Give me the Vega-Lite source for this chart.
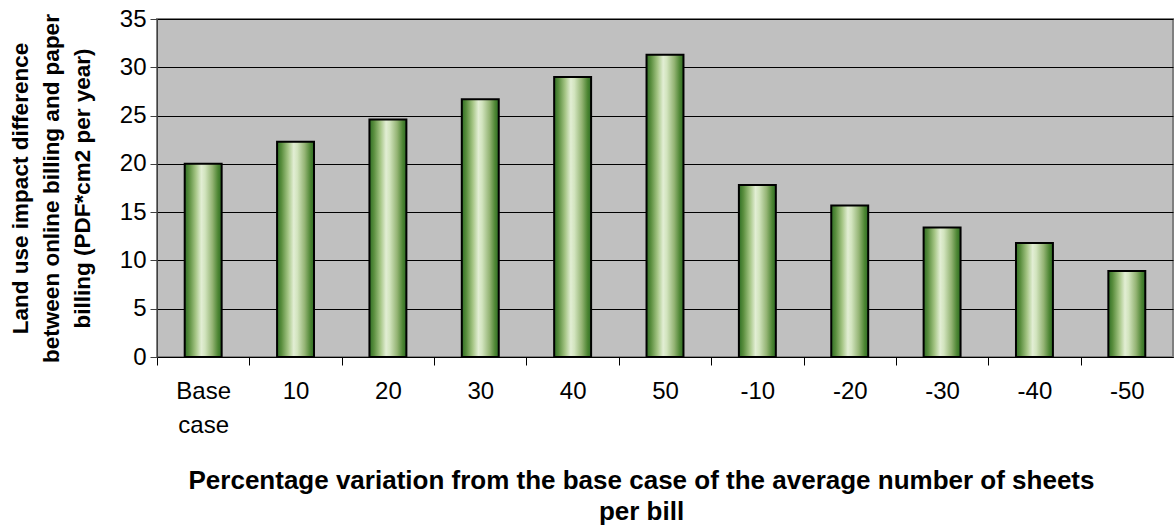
{
  "$schema": "https://vega.github.io/schema/vega-lite/v6.json",
  "width": 1016,
  "height": 338,
  "autosize": {"type": "none"},
  "padding": {"left": 157, "top": 19, "right": 1, "bottom": 169},
  "background": "white",
  "config": {
    "font": "Liberation Sans",
    "view": {"fill": "#C0C0C0", "stroke": "#808080", "strokeWidth": 2}
  },
  "data": {
    "values": [
      {"variation": "Base case", "value": 20.0},
      {"variation": "10", "value": 22.3},
      {"variation": "20", "value": 24.6},
      {"variation": "30", "value": 26.7},
      {"variation": "40", "value": 29.0},
      {"variation": "50", "value": 31.3},
      {"variation": "-10", "value": 17.8},
      {"variation": "-20", "value": 15.7},
      {"variation": "-30", "value": 13.4},
      {"variation": "-40", "value": 11.8},
      {"variation": "-50", "value": 8.9}
    ]
  },
  "mark": {
    "type": "bar",
    "stroke": "black",
    "strokeWidth": 2,
    "color": {
      "gradient": "linear",
      "x1": 0, "y1": 0, "x2": 1, "y2": 0,
      "stops": [
        {"offset": 0, "color": "#2f6e24"},
        {"offset": 0.12, "color": "#5a8e3e"},
        {"offset": 0.3, "color": "#a6c686"},
        {"offset": 0.45, "color": "#e2eed4"},
        {"offset": 0.55, "color": "#d2e4be"},
        {"offset": 0.75, "color": "#94b474"},
        {"offset": 0.9, "color": "#4e8634"},
        {"offset": 1, "color": "#2c6c22"}
      ]
    }
  },
  "encoding": {
    "x": {
      "field": "variation",
      "type": "nominal",
      "sort": null,
      "scale": {"paddingInner": 0.6, "paddingOuter": 0.3},
      "axis": {
        "labelAngle": 0,
        "labelFontSize": 24,
        "labelColor": "black",
        "labelPadding": 14,
        "labelLineHeight": 34,
        "labelExpr": "datum.label == 'Base case' ? ['Base', 'case'] : datum.label",
        "ticks": true,
        "tickOffset": -46.18,
        "labelOffset": 46.18,
        "tickSize": 8,
        "tickWidth": 1,
        "tickColor": "black",
        "domainColor": "black",
        "domainWidth": 1,
        "title": ["Percentage variation from the base case of the average number of sheets", "per bill"],
        "titleFontSize": 26,
        "titleFontWeight": "bold",
        "titleColor": "black",
        "titleLineHeight": 31,
        "titleBaseline": "top",
        "titleAlign": "center",
        "titleX": 484,
        "titleY": 110
      }
    },
    "y": {
      "field": "value",
      "type": "quantitative",
      "scale": {"domain": [0, 35], "nice": false},
      "axis": {
        "values": [0, 5, 10, 15, 20, 25, 30, 35],
        "labelFontSize": 24,
        "labelColor": "black",
        "labelPadding": 4,
        "tickSize": 7,
        "tickColor": "#404040",
        "domainColor": "#404040",
        "gridColor": "black",
        "gridWidth": 1,
        "gridOpacity": 1,
        "title": ["Land use impact difference", "between online billing and paper", "billing (PDF*cm2 per year)"],
        "titleFontSize": 22.5,
        "titleFontWeight": "bold",
        "titleColor": "black",
        "titleLineHeight": 31,
        "titleAngle": -90,
        "titleBaseline": "top",
        "titleAlign": "center",
        "titleX": -148,
        "titleY": 169
      }
    }
  }
}
